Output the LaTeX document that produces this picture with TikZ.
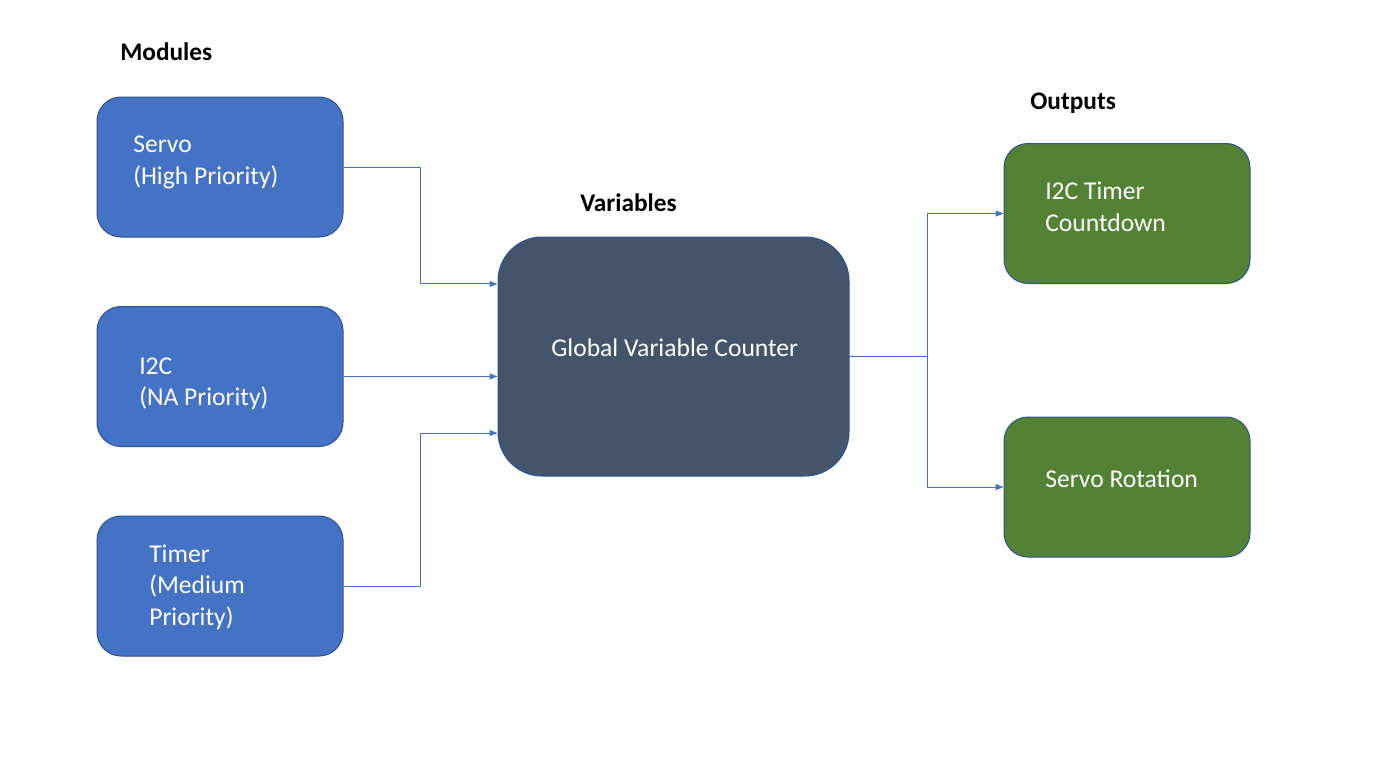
\documentclass[tikz,border=0pt]{standalone}
\usepackage{fontspec}
\setmainfont{Carlito}
\usetikzlibrary{arrows.meta}

\definecolor{modblue}{HTML}{4472C4}
\definecolor{edgeblue}{HTML}{2F528F}
\definecolor{slate}{HTML}{44546A}
\definecolor{outgreen}{HTML}{548235}

\tikzset{
	box/.style={draw=edgeblue, line width=0.75pt, minimum width=184.5pt, minimum height=105pt, rounded corners=18pt, inner sep=0pt},
	module/.style={box, fill=modblue},
	output/.style={box, fill=outgreen},
	boxtext/.style={anchor=west, text=white, align=left, inner sep=0pt, font=\fontsize{19.2}{23.6}\selectfont},
	heading/.style={anchor=west, inner sep=0pt, font=\fontsize{19}{22}\selectfont\bfseries},
	link/.style={draw=modblue, line width=0.75pt, -{Triangle[length=6pt, width=4.5pt]}}
}

\begin{document}
\begin{tikzpicture}[x=0.75pt, y=-0.75pt]
	\useasboundingbox[fill=white] (0,0) rectangle (1378,776);
	
	% headings
	\node [heading] (modhead) at (120,52) {Modules};
	\node [heading] (varhead) at (580,203) {Variables};
	\node [heading] (outhead) at (1030,103) {Outputs};
	
	% modules
	\node [module] (servo) at (220,167) {};
	\node [module] (i2c) at (220,376.5) {};
	\node [module] (timer) at (220,586) {};
	\node [boxtext] (servotext) at (133,162.5) {Servo\\(High Priority)};
	\node [boxtext] (i2ctext) at (139,384) {I2C\\(NA Priority)};
	\node [boxtext] (timertext) at (149,587) {Timer\\(Medium\\Priority)};
	
	% variables
	\node [box, fill=slate, minimum width=263.25pt, minimum height=179.25pt, rounded corners=33pt] (global) at (673.5,356.5) {};
	\node [boxtext] (globaltext) at (551,347.5) {Global Variable Counter};
	
	% outputs
	\node [output] (countdown) at (1127,213.5) {};
	\node [output] (rotation) at (1127,487) {};
	\node [boxtext] (countdowntext) at (1045,207) {I2C Timer\\Countdown};
	\node [boxtext] (rotationtext) at (1045,478.5) {Servo Rotation};
	
	% connectors
	\draw [link] (servo.east) -- ++(77,0) |- ([yshift=54.4pt]global.west);
	\draw [link] (i2c.east) -- (global.west |- i2c.east);
	\draw [link] (timer.east) -- ++(77,0) |- ([yshift=-57.4pt]global.west);
	\draw [link] (global.east) -- ++(78,0) |- (countdown.west);
	\draw [link] (global.east) -- ++(78,0) |- (rotation.west);
\end{tikzpicture}
\end{document}
